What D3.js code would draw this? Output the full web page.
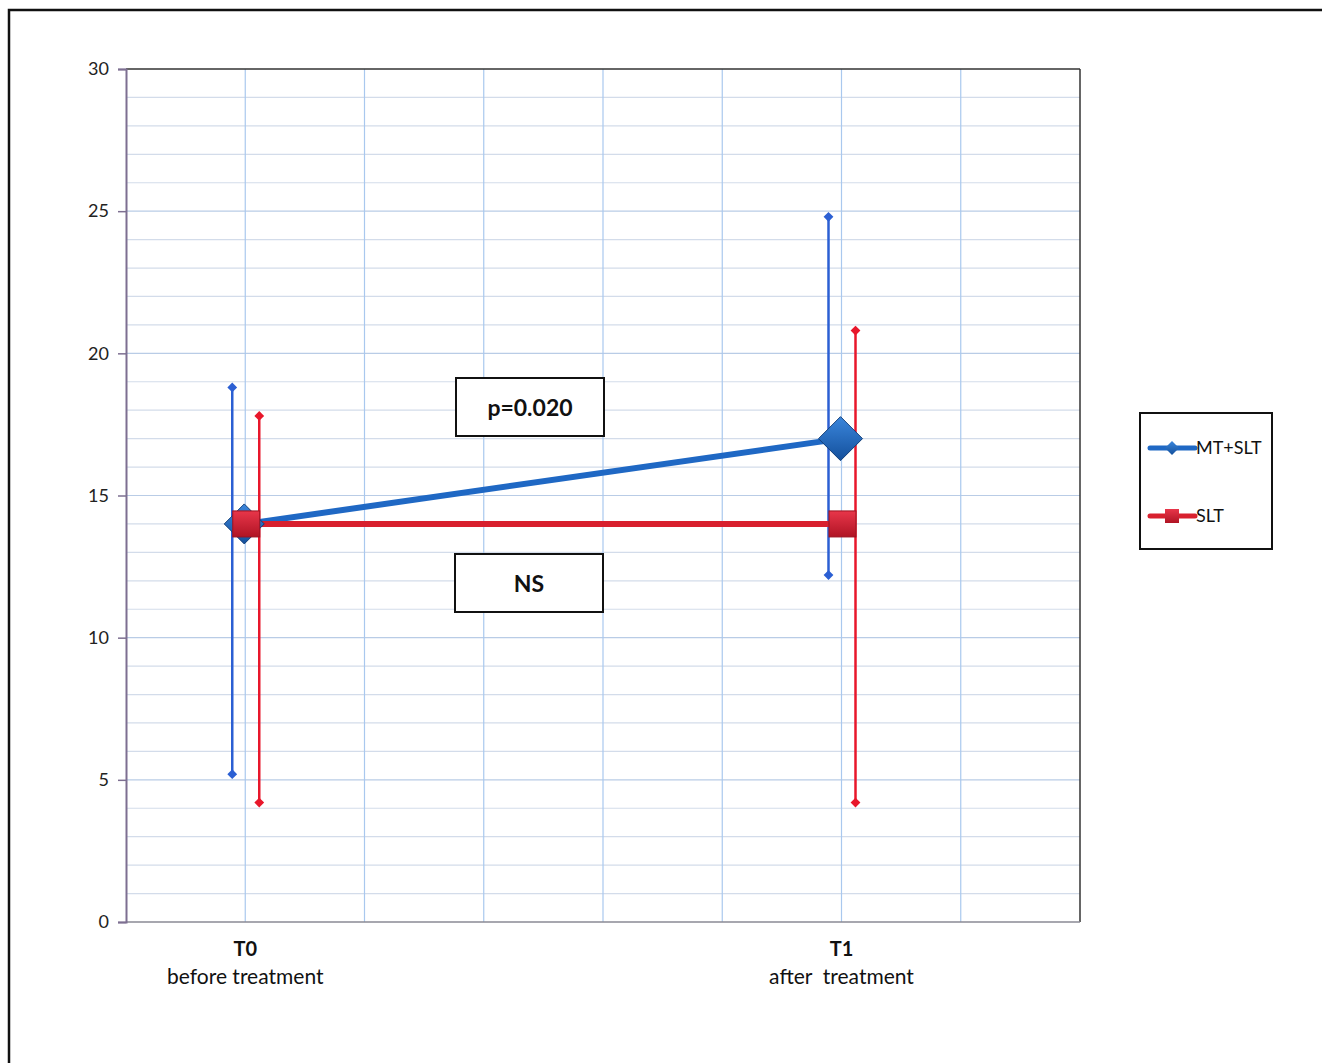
<!DOCTYPE html>
<html>
<head>
<meta charset="utf-8">
<script src="https://cdn.jsdelivr.net/npm/d3@7"></script>
<style>
  body { margin: 0; background: #fff; }
  text { font-family: Lato, "Open Sans", sans-serif; }
</style>
</head>
<body>
<script>
// data
var categories = ["T0", "T1"];
var catNotes = ["before treatment", "after  treatment"];
var mtMean = [14.0, 17.0];
var mtHigh = [18.8, 24.8];
var mtLow = [5.2, 12.2];
var sltMean = [14.0, 14.0];
var sltHigh = [17.8, 20.8];
var sltLow = [4.2, 4.2];
var yTicks = [0, 5, 10, 15, 20, 25, 30];
var seriesNames = ["MT+SLT", "SLT"];

var blue = "#1f68c4", red = "#d8202e";
var blueBar = "#2b5fd3", redBar = "#e8172b";

function drawChart() {
  var svg = d3.select("body").append("svg")
    .attr("width", 1322)
    .attr("height", 1063);

  var defs = svg.append("defs");
  var gb = defs.append("linearGradient").attr("id", "gBlue")
    .attr("x1", 0).attr("y1", 0).attr("x2", 0).attr("y2", 1);
  gb.append("stop").attr("offset", "0%").attr("stop-color", "#3a86dc");
  gb.append("stop").attr("offset", "100%").attr("stop-color", "#14509c");
  var gr = defs.append("linearGradient").attr("id", "gRed")
    .attr("x1", 0).attr("y1", 0).attr("x2", 0).attr("y2", 1);
  gr.append("stop").attr("offset", "0%").attr("stop-color", "#e8364a");
  gr.append("stop").attr("offset", "100%").attr("stop-color", "#b01424");

  // page frame
  svg.append("path")
    .attr("d", "M9,1063 V10 H1322")
    .attr("fill", "none").attr("stroke", "#111").attr("stroke-width", 2.5);

  var left = 126, right = 1080, top = 69, bottom = 922;
  var x = d3.scaleLinear().domain([0, 8]).range([left, right]);
  var y = d3.scaleLinear().domain([0, 30]).range([bottom, top]);
  var catPos = [1, 6];

  // grid
  svg.append("g").selectAll("line").data(d3.range(1, 30))
    .enter().append("line")
    .attr("x1", left).attr("x2", right)
    .attr("y1", function(d) { return y(d); }).attr("y2", function(d) { return y(d); })
    .attr("stroke", function(d) { return d % 5 == 0 ? "#b9cce6" : "#d3dcea"; })
    .attr("stroke-width", 1.2);
  svg.append("g").selectAll("line").data(d3.range(1, 8))
    .enter().append("line")
    .attr("y1", top).attr("y2", bottom)
    .attr("x1", function(d) { return x(d); }).attr("x2", function(d) { return x(d); })
    .attr("stroke", "#a9c8ee").attr("stroke-width", 1.2);

  // plot borders
  svg.append("line").attr("x1", left).attr("x2", right).attr("y1", top).attr("y2", top)
    .attr("stroke", "#333").attr("stroke-width", 1.5);
  svg.append("line").attr("x1", right).attr("x2", right).attr("y1", top).attr("y2", bottom)
    .attr("stroke", "#333").attr("stroke-width", 1.5);
  svg.append("line").attr("x1", left).attr("x2", right).attr("y1", bottom).attr("y2", bottom)
    .attr("stroke", "#8a8a94").attr("stroke-width", 1.5);

  // y axis
  var yAxis = d3.axisLeft(y).tickValues(yTicks).tickSize(8).tickPadding(9);
  var ga = svg.append("g").attr("transform", "translate(" + left + ",0)").call(yAxis);
  ga.select(".domain").attr("stroke", "#7d6f91").attr("stroke-width", 2);
  ga.selectAll(".tick line").attr("stroke", "#7d6f91").attr("stroke-width", 1.5);
  ga.selectAll(".tick text").attr("font-size", 18).attr("fill", "#222")
    .style("font-family", "Lato, sans-serif");

  // x labels
  categories.forEach(function(c, i) {
    svg.append("text").attr("x", x(catPos[i])).attr("y", 956)
      .attr("text-anchor", "middle").attr("font-size", 20).attr("font-weight", "bold")
      .attr("fill", "#111").text(c);
    svg.append("text").attr("x", x(catPos[i])).attr("y", 984)
      .attr("text-anchor", "middle").attr("font-size", 21)
      .attr("fill", "#111").attr("xml:space", "preserve").text(catNotes[i]);
  });

  // error bars
  function errorBars(hi, lo, dx, col) {
    categories.forEach(function(c, i) {
      var cx = x(catPos[i]) + dx;
      svg.append("line").attr("x1", cx).attr("x2", cx)
        .attr("y1", y(hi[i])).attr("y2", y(lo[i]))
        .attr("stroke", col).attr("stroke-width", 2.5);
      [hi[i], lo[i]].forEach(function(v) {
        svg.append("path")
          .attr("d", d3.symbol().type(d3.symbolSquare).size(48))
          .attr("transform", "translate(" + cx + "," + y(v) + ") rotate(45)")
          .attr("fill", col);
      });
    });
  }
  errorBars(mtHigh, mtLow, -13, blueBar);
  errorBars(sltHigh, sltLow, 14, redBar);

  var line = d3.line()
    .x(function(d, i) { return x(catPos[i]); })
    .y(function(d) { return y(d); });

  svg.append("path").datum(mtMean).attr("d", line)
    .attr("fill", "none").attr("stroke", blue).attr("stroke-width", 6);
  svg.append("path").datum(sltMean).attr("d", line)
    .attr("fill", "none").attr("stroke", red).attr("stroke-width", 6);

  // markers
  mtMean.forEach(function(v, i) {
    var s = i == 0 ? 20 : 22;
    svg.append("path")
      .attr("d", "M0," + (-s) + "L" + s + ",0L0," + s + "L" + (-s) + ",0Z")
      .attr("transform", "translate(" + (x(catPos[i]) - 1) + "," + y(v) + ")")
      .attr("fill", "url(#gBlue)").attr("stroke", "#123f7a").attr("stroke-width", 1);
  });
  sltMean.forEach(function(v, i) {
    svg.append("rect")
      .attr("x", x(catPos[i]) + 1 - 13.5).attr("y", y(v) - 13)
      .attr("width", 27).attr("height", 26)
      .attr("fill", "url(#gRed)").attr("stroke", "#9c1220").attr("stroke-width", 1);
  });

  // annotation boxes
  var notes = [
    { text: "p=0.020", x: 456, y: 378 },
    { text: "NS", x: 455, y: 554 }
  ];
  notes.forEach(function(n) {
    svg.append("rect").attr("x", n.x).attr("y", n.y).attr("width", 148).attr("height", 58)
      .attr("fill", "#fff").attr("stroke", "#111").attr("stroke-width", 2);
    svg.append("text").attr("x", n.x + 74).attr("y", n.y + 38)
      .attr("text-anchor", "middle").attr("font-size", 23).attr("font-weight", "bold")
      .attr("fill", "#111").text(n.text);
  });

  // legend
  svg.append("rect").attr("x", 1140).attr("y", 413).attr("width", 132).attr("height", 136)
    .attr("fill", "#fff").attr("stroke", "#111").attr("stroke-width", 2);
  var legY = [448, 516];
  var legCol = [blue, red];
  seriesNames.forEach(function(name, i) {
    svg.append("line").attr("x1", 1150).attr("x2", 1195).attr("y1", legY[i]).attr("y2", legY[i])
      .attr("stroke", legCol[i]).attr("stroke-width", 5).attr("stroke-linecap", "round");
    if (i == 0) {
      svg.append("path").attr("d", "M0,-7L7,0L0,7L-7,0Z")
        .attr("transform", "translate(1172," + legY[i] + ")").attr("fill", "url(#gBlue)");
    } else {
      svg.append("rect").attr("x", 1165).attr("y", legY[i] - 7).attr("width", 14).attr("height", 14)
        .attr("fill", "url(#gRed)");
    }
    svg.append("text").attr("x", 1196).attr("y", legY[i] + 6)
      .attr("font-size", 18).attr("fill", "#111").text(name);
  });
}

document.addEventListener("DOMContentLoaded", function() {
  drawChart();
});
</script>
</body>
</html>
